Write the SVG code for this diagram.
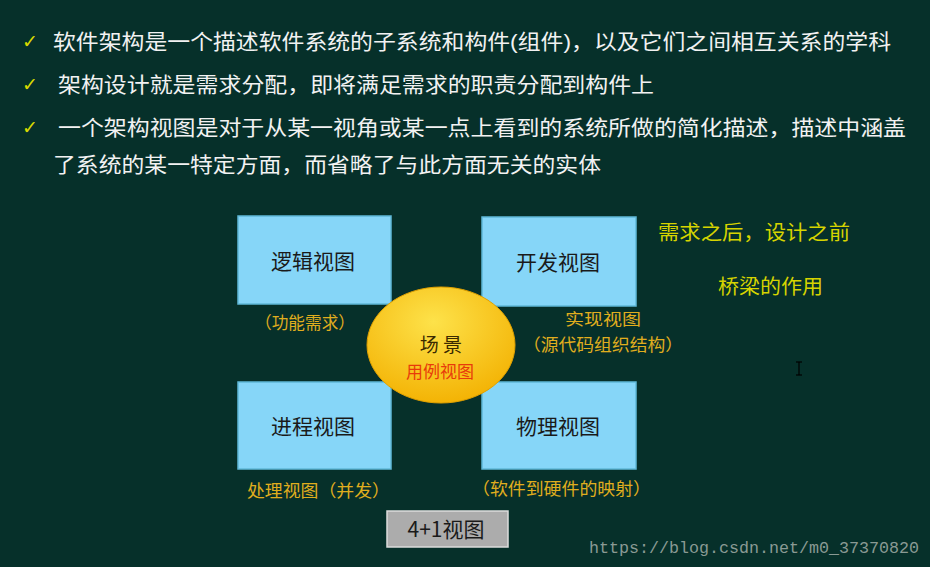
<svg xmlns="http://www.w3.org/2000/svg" width="930" height="567" viewBox="0 0 930 567">
<defs>
<style>
.bul{font-family:"Liberation Sans","Noto Sans CJK SC",sans-serif;font-size:21px;fill:#f2f2f2}
.chk{font-family:"DejaVu Sans",sans-serif;font-size:19px;fill:#d8d800}
.box{fill:#86d6f8;stroke:#5fb8d8;stroke-width:1.5}
.bt{font-family:"Noto Sans CJK SC",sans-serif;font-size:21px;fill:#1a1a1a;text-anchor:middle}
.lab{font-family:"Noto Sans CJK SC",sans-serif;font-size:17px;fill:#e0ae1e}
.note{font-family:"Noto Sans CJK SC",sans-serif;font-size:20px;fill:#d6d400}
</style>
<radialGradient id="gy" cx="0.45" cy="0.3" r="0.75">
<stop offset="0" stop-color="#fde24a"/>
<stop offset="1" stop-color="#f3b000"/>
</radialGradient>
</defs>
<rect width="930" height="567" fill="#06302a"/>
<g id="bullets">
<text class="chk" x="22" y="48">✓</text>
<text class="bul" x="53" y="49" textLength="838" lengthAdjust="spacingAndGlyphs">软件架构是一个描述软件系统的子系统和构件(组件)，以及它们之间相互关系的学科</text>
<text class="chk" x="22" y="91">✓</text>
<text class="bul" x="58" y="92" textLength="596" lengthAdjust="spacingAndGlyphs">架构设计就是需求分配，即将满足需求的职责分配到构件上</text>
<text class="chk" x="22" y="134">✓</text>
<text class="bul" x="58" y="135" textLength="848" lengthAdjust="spacingAndGlyphs">一个架构视图是对于从某一视角或某一点上看到的系统所做的简化描述，描述中涵盖</text>
<text class="bul" x="53" y="172" textLength="548" lengthAdjust="spacingAndGlyphs">了系统的某一特定方面，而省略了与此方面无关的实体</text>
</g>
<g id="logical"><rect class="box" x="238" y="216" width="153" height="88"/><text class="bt" x="313" y="269">逻辑视图</text></g>
<g id="development"><rect class="box" x="482" y="217" width="154" height="89"/><text class="bt" x="558" y="270">开发视图</text></g>
<g id="process"><rect class="box" x="238" y="382" width="153" height="87"/><text class="bt" x="313" y="434">进程视图</text></g>
<g id="physical"><rect class="box" x="482" y="382" width="154" height="87"/><text class="bt" x="558" y="434">物理视图</text></g>
<g id="scenario">
<ellipse cx="441" cy="345" rx="74" ry="58" fill="url(#gy)" stroke="#e0a000" stroke-width="1"/>
<text class="bt" x="441" y="352" style="fill:#3a2a00;font-size:19px">场 景</text>
<text class="bt" x="440" y="378" style="fill:#e83a0a;font-size:17px">用例视图</text>
</g>
<g id="labels">
<text class="lab" x="255" y="329" textLength="100" lengthAdjust="spacingAndGlyphs">（功能需求）</text>
<text class="lab" x="565" y="325" style="font-size:16px" textLength="76" lengthAdjust="spacingAndGlyphs">实现视图</text>
<text class="lab" x="523" y="351" style="font-size:16.5px" textLength="160" lengthAdjust="spacingAndGlyphs">（源代码组织结构）</text>
<text class="lab" x="247" y="497" textLength="143" lengthAdjust="spacingAndGlyphs">处理视图（并发）</text>
<text class="lab" x="472" y="495" textLength="179" lengthAdjust="spacingAndGlyphs">（软件到硬件的映射）</text>
<text class="note" x="658" y="240" textLength="192" lengthAdjust="spacingAndGlyphs">需求之后，设计之前</text>
<text class="note" x="718" y="294" textLength="105" lengthAdjust="spacingAndGlyphs">桥梁的作用</text>
</g>
<g id="button">
<rect x="387" y="511" width="121" height="36" fill="#acacac" stroke="#dcdcdc" stroke-width="1.5"/>
<text x="446" y="537" text-anchor="middle" font-family="Noto Sans CJK SC,sans-serif" font-size="21" fill="#1a1a1a">4+1视图</text>
</g>
<g id="connectors"></g>
<g id="cursor" stroke="#000" stroke-width="1.2">
<line x1="799" y1="362" x2="799" y2="375"/><line x1="796" y1="362" x2="802" y2="362"/><line x1="796" y1="375" x2="802" y2="375"/>
</g>
<text x="589" y="553" font-family="Liberation Mono,monospace" font-size="16.5" fill="#8a9a94" textLength="330" lengthAdjust="spacingAndGlyphs">https://blog.csdn.net/m0_37370820</text>
</svg>
